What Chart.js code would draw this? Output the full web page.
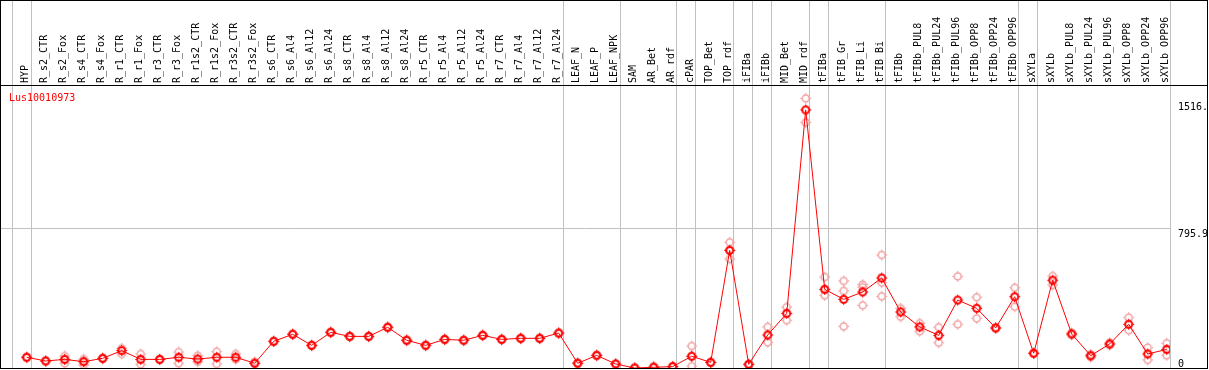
<!DOCTYPE html>
<html>
<head>
<meta charset="utf-8">
<script src="https://cdn.jsdelivr.net/npm/chart.js@4.4.1/dist/chart.umd.min.js"></script>
<style>
  html, body { margin: 0; padding: 0; background: #fff; }
  #wrap { width: 1209px; height: 370px; }
</style>
</head>
<body>
<div id="wrap"><canvas id="expr" width="1209" height="370"></canvas></div>
<script>
const categories = ['HYP', 'R_s2_CTR', 'R_s2_Fox', 'R_s4_CTR', 'R_s4_Fox', 'R_r1_CTR', 'R_r1_Fox', 'R_r3_CTR', 'R_r3_Fox',
  'R_r1s2_CTR', 'R_r1s2_Fox', 'R_r3s2_CTR', 'R_r3s2_Fox', 'R_s6_CTR', 'R_s6_Al4', 'R_s6_Al12', 'R_s6_Al24',
  'R_s8_CTR', 'R_s8_Al4', 'R_s8_Al12', 'R_s8_Al24', 'R_r5_CTR', 'R_r5_Al4', 'R_r5_Al12', 'R_r5_Al24',
  'R_r7_CTR', 'R_r7_Al4', 'R_r7_Al12', 'R_r7_Al24', 'LEAF_N', 'LEAF_P', 'LEAF_NPK', 'SAM', 'AR_Bet', 'AR_rdf',
  'cPAR', 'TOP_Bet', 'TOP_rdf', 'iFIBa', 'iFIBb', 'MID_Bet', 'MID_rdf', 'tFIBa', 'tFIB_Gr', 'tFIB_Li', 'tFIB_Bi',
  'tFIBb', 'tFIBb_PUL8', 'tFIBb_PUL24', 'tFIBb_PUL96', 'tFIBb_OPP8', 'tFIBb_OPP24', 'tFIBb_OPP96',
  'sXYLa', 'sXYLb', 'sXYLb_PUL8', 'sXYLb_PUL24', 'sXYLb_PUL96', 'sXYLb_OPP8', 'sXYLb_OPP24', 'sXYLb_OPP96'];

// mean expression per sample
const means = [61, 40, 49, 36, 55, 99, 49, 49, 61, 51, 61, 61, 27, 152, 192,
  129, 203, 180, 180, 232, 158, 129, 163, 158, 186, 163, 169, 169, 199, 27, 72,
  23, 0, 4, 8, 67, 32, 670, 21, 188, 311, 1470, 448, 391, 433, 513, 319,
  234, 186, 387, 340, 228, 406, 84, 500, 194, 70, 137, 249, 80, 106];

// replicates (null = no third replicate)
const rep1 = [63, 42, 68, 51, 57, 112, 80, 51, 91, 70, 93, 80, 35, 155, 195,
  132, 206, 183, 183, 235, 161, 132, 166, 161, 189, 166, 172, 172, 202, 30, 75,
  25, 2, 11, 10, 125, 34, 716, 23, 234, 347, 1536, 518, 496, 475, 644, 340,
  255, 232, 522, 403, 230, 457, 86, 524, 200, 78, 144, 287, 116, 141];
const rep2 = [59, 38, 27, 17, 53, 80, 21, 47, 27, 36, 23, 49, 24, 150, 190,
  126, 200, 177, 177, 229, 155, 126, 160, 155, 183, 160, 166, 166, 196, 24, 69,
  21, 0, 2, 6, 11, 30, 621, 19, 146, 272, 1399, 414, 439, 357, 486, 292,
  209, 144, 249, 283, 226, 349, 82, 473, 188, 62, 130, 215, 46, 72];
const rep3 = [null, null, 49, 36, null, null, null, null, null, null, null, null, null, null, null,
  null, null, null, null, null, null, null, null, null, null, null, null, null, null, null, null,
  null, null, null, null, 67, null, 672, null, null, null, null, 448, 237, 460, 408, null,
  null, null, null, null, null, null, null, null, null, null, null, null, null, null];

const yTicks = [0, 795.9, 1516];
const yTickLabels = ['0', '795.9', '1516.'];
// sample index after which a separator line is drawn
const groupEnds = [-1, 0, 28, 31, 34, 35, 37, 38, 39, 41, 42, 45, 52, 53, 60];
const geneName = 'Lus10010973';

const monoFont = { family: '"DejaVu Sans Mono", monospace', size: 10 };

// small circle with four nubs, like the original plot symbol
function marker(color, lw) {
  const c = document.createElement('canvas');
  c.width = 13; c.height = 13;
  const g = c.getContext('2d');
  g.strokeStyle = color;
  g.lineWidth = lw;
  g.beginPath();
  g.arc(6.5, 6.5, 3.5, 0, Math.PI * 2);
  g.stroke();
  g.lineWidth = 1;
  g.beginPath();
  g.moveTo(6.5, 1); g.lineTo(6.5, 2.5);
  g.moveTo(6.5, 10.5); g.lineTo(6.5, 12);
  g.moveTo(1, 6.5); g.lineTo(2.5, 6.5);
  g.moveTo(10.5, 6.5); g.lineTo(12, 6.5);
  g.stroke();
  return c;
}
const meanMark = marker('#ff0000', 2);
const repMark = marker('rgb(240,160,160)', 1.5);

const toPoints = arr => arr.map((v, i) => ({ x: i, y: v })).filter(p => p.y !== null);

const frame = {
  id: 'frame',
  beforeDraw(chart) {
    const y = chart.scales.y;
    y.getLabelItems().forEach((item, i) => {
      const v = y.ticks[i].value;
      if (v === 0) {
        item.options.textBaseline = 'alphabetic';
        item.options.translation[1] = y.bottom - 1.5;
      } else {
        item.options.textBaseline = 'top';
        item.options.translation[1] = y.getPixelForValue(v) + 1;
      }
    });
  },
  beforeDatasetsDraw(chart) {
    const { ctx, chartArea: a, scales: { x } } = chart;
    ctx.save();
    ctx.strokeStyle = '#c0c0c0';
    ctx.lineWidth = 1;
    groupEnds.forEach(i => {
      const px = Math.round(x.getPixelForValue(i + 0.2)) + 0.5;
      ctx.beginPath();
      ctx.moveTo(px, 0);
      ctx.lineTo(px, a.bottom);
      ctx.stroke();
    });
    ctx.restore();
  },
  afterDraw(chart) {
    const { ctx, chartArea: a } = chart;
    ctx.save();
    ctx.strokeStyle = '#000';
    ctx.lineWidth = 1;
    ctx.beginPath();
    ctx.moveTo(0, 0.5); ctx.lineTo(1208, 0.5);
    ctx.moveTo(0, a.top + 0.5); ctx.lineTo(1208, a.top + 0.5);
    ctx.moveTo(0, a.bottom + 0.5); ctx.lineTo(1208, a.bottom + 0.5);
    ctx.moveTo(0.5, 0); ctx.lineTo(0.5, a.bottom + 1);
    ctx.moveTo(1207.5, 0); ctx.lineTo(1207.5, a.bottom + 1);
    ctx.stroke();
    ctx.fillStyle = '#ff0000';
    ctx.font = '10px "DejaVu Sans Mono", monospace';
    ctx.textBaseline = 'alphabetic';
    ctx.fillText(geneName, 9, a.top + 16);
    ctx.restore();
  }
};

new Chart(document.getElementById('expr'), {
  type: 'scatter',
  data: {
    datasets: [
      {
        label: 'mean',
        data: toPoints(means),
        showLine: true,
        borderColor: '#ff0000',
        borderWidth: 1,
        pointStyle: meanMark,
        pointRadius: 5
      },
      { label: 'rep1', data: toPoints(rep1), pointStyle: repMark, pointRadius: 5 },
      { label: 'rep2', data: toPoints(rep2), pointStyle: repMark, pointRadius: 5 },
      { label: 'rep3', data: toPoints(rep3), pointStyle: repMark, pointRadius: 5 }
    ]
  },
  options: {
    responsive: false,
    animation: false,
    devicePixelRatio: 1,
    layout: { autoPadding: false, padding: { left: 1, right: 2, top: 0, bottom: 2 } },
    plugins: { legend: { display: false }, tooltip: { enabled: false } },
    scales: {
      x: {
        type: 'linear',
        position: 'top',
        bounds: 'data',
        min: -1.353,
        max: 60.174,
        afterBuildTicks: axis => { axis.ticks = categories.map((c, i) => ({ value: i })); },
        afterFit: axis => {
          axis.height = 85;
          axis.paddingLeft = 0;
          axis.paddingRight = 0;
        },
        grid: { display: false, drawTicks: false },
        border: { display: false },
        ticks: {
          autoSkip: false,
          minRotation: 90,
          maxRotation: 90,
          padding: 2,
          labelOffset: 10.5,
          color: '#000',
          font: monoFont,
          callback: v => categories[v]
        }
      },
      y: {
        position: 'right',
        bounds: 'data',
        min: 0,
        max: 1612,
        afterBuildTicks: axis => { axis.ticks = yTicks.map(v => ({ value: v })); },
        afterFit: axis => {
          axis.width = 37;
          axis.paddingTop = 0;
          axis.paddingBottom = 0;
        },
        grid: {
          drawTicks: false,
          color: c => (c.tick && c.tick.value === 795.9 ? '#c0c0c0' : 'rgba(0,0,0,0)')
        },
        border: { display: false },
        ticks: {
          padding: 8,
          color: '#000',
          font: monoFont,
          callback: v => yTickLabels[yTicks.indexOf(v)]
        }
      }
    }
  },
  plugins: [frame]
});
</script>
</body>
</html>
